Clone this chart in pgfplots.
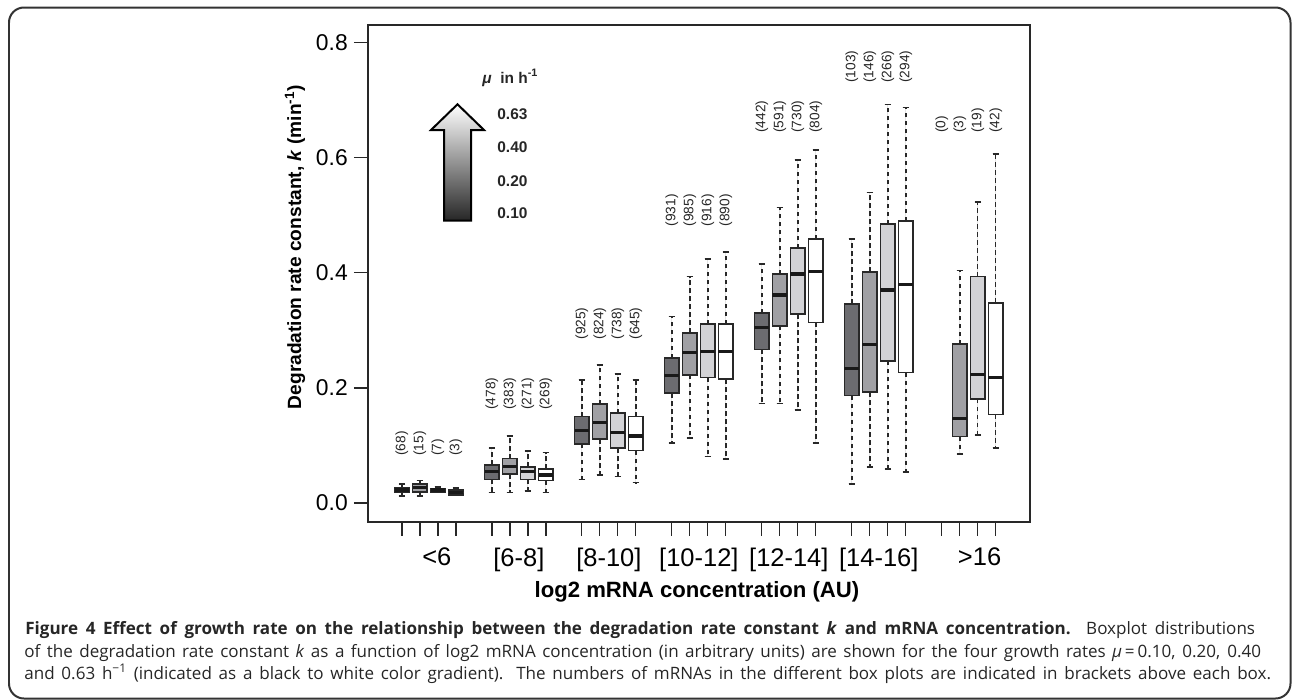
\documentclass[border=0pt]{standalone}
\usepackage{pgfplots}
\pgfplotsset{compat=1.18}
\usepgfplotslibrary{statistics}
\usepackage{fontspec}
\setmainfont{Liberation Sans}
\newfontfamily\capfont{Open Sans}

\definecolor{muA}{RGB}{108,108,112}
\definecolor{muB}{RGB}{160,160,164}
\definecolor{muC}{RGB}{211,211,214}
\definecolor{muD}{RGB}{255,255,255}
\definecolor{edge}{RGB}{40,40,40}

% one box: position, fill, lower whisker, q1, median, q3, upper whisker
\newcommand{\bx}[7]{%
  \addplot[fill=#2, boxplot prepared={draw position=#1,
    lower whisker=#3, lower quartile=#4, median=#5,
    upper quartile=#6, upper whisker=#7}] coordinates {};}

\begin{document}
\begin{tikzpicture}
\begin{scope}[x=0.02cm,y=-0.02cm]
  \path (0,0) rectangle (1292,700);
  \draw[line width=0.04cm, black!80, rounded corners=0.3cm] (9,7.5) rectangle (1290.5,698.5);
  % growth-rate arrow
  \shadedraw[top color=white, bottom color=black!85, draw=black, line width=0.04cm]
    (444,220.7) -- (444,130) -- (431,130) -- (457.5,104.3) -- (484,130)
    -- (471,130) -- (471,220.7) -- cycle;
  \begin{scope}[font=\bfseries\fontsize{8.8}{10}\selectfont, text=black!85]
    \node[anchor=west, inner sep=0pt] at (482,78) {\textit{μ}\ \ in h\textsuperscript{-1}};
    \node[anchor=west, inner sep=0pt] at (497,114) {0.63};
    \node[anchor=west, inner sep=0pt] at (497,147) {0.40};
    \node[anchor=west, inner sep=0pt] at (497,181) {0.20};
    \node[anchor=west, inner sep=0pt] at (497,213) {0.10};
  \end{scope}
  % axis titles
  \node[rotate=90, font=\bfseries\fontsize{10.9}{12}\selectfont] at (295,247)
    {Degradation rate constant, \textit{k} (min\textsuperscript{-1})};
  \node[font=\bfseries\fontsize{12.6}{14}\selectfont] at (697,592)
    {log2 mRNA concentration (AU)};
  % caption
  \begin{scope}[font=\capfont\fontsize{9.7}{11}\selectfont, text=black!85]
    \node[anchor=base west, inner sep=0pt] at (25,634) {\makebox[24.6cm][s]{\textbf{Figure 4 Effect of growth rate on the relationship between the degradation rate constant \textit{k} and mRNA concentration.} Boxplot distributions}};
    \node[anchor=base west, inner sep=0pt] at (24,657) {\makebox[24.74cm][s]{of the degradation rate constant \textit{k} as a function of log2 mRNA concentration (in arbitrary units) are shown for the four growth rates \textit{μ}\,=\,0.10, 0.20, 0.40}};
    \node[anchor=base west, inner sep=0pt] at (24,679) {\makebox[24.94cm][s]{and 0.63 h\textsuperscript{−1} (indicated as a black to white color gradient). The numbers of mRNAs in the different box plots are indicated in brackets above each box.}};
  \end{scope}
\end{scope}

\begin{axis}[
  at={(7.36cm,-10.44cm)}, anchor=south west,
  scale only axis, width=13.24cm, height=9.94cm,
  xmin=-0.889, xmax=35.89, ymin=-0.033, ymax=0.831,
  axis line style={line width=0.8pt, edge},
  tick align=outside, xtick pos=bottom, ytick pos=left,
  major tick length=0.28cm,
  tick style={line width=0.7pt, edge},
  ytick={0,0.2,0.4,0.6,0.8},
  yticklabel style={/pgf/number format/fixed, /pgf/number format/fixed zerofill,
    /pgf/number format/precision=1, /pgf/number format/assume math mode=true,
    font=\fontsize{13}{15}\selectfont},
  xtick={1,2,3,4,6,7,8,9,11,12,13,14,16,17,18,19,21,22,23,24,26,27,28,29,31,32,33,34},
  xticklabels={},
  extra x ticks={2.94,7.5,12.5,17.5,22.5,27.5,33.1},
  extra x tick labels={{<6},{[6-8]},{[8-10]},{[10-12]},{[12-14]},{[14-16]},{>16}},
  extra x tick style={major tick length=0pt,
    tick label style={font=\fontsize{14.5}{16}\selectfont, yshift=-0.4cm}},
  boxplot/draw direction=y,
  boxplot/box extend=0.82,
  boxplot/whisker extend=0.36,
  boxplot/every box/.style={draw=edge, line width=0.95pt},
  boxplot/every median/.style={draw=black!90, line width=1.9pt},
  boxplot/draw/lower whisker/.code={%
    \draw[edge, line width=0.8pt, dash pattern=on 0.09cm off 0.07cm]
      (boxplot box cs:\pgfplotsboxplotvalue{lower quartile},0.5) --
      (boxplot box cs:\pgfplotsboxplotvalue{lower whisker},0.5);
    \draw[edge, line width=0.9pt, solid]
      (boxplot whisker cs:\pgfplotsboxplotvalue{lower whisker},0) --
      (boxplot whisker cs:\pgfplotsboxplotvalue{lower whisker},1);},
  boxplot/draw/upper whisker/.code={%
    \draw[edge, line width=0.8pt, dash pattern=on 0.09cm off 0.07cm]
      (boxplot box cs:\pgfplotsboxplotvalue{upper quartile},0.5) --
      (boxplot box cs:\pgfplotsboxplotvalue{upper whisker},0.5);
    \draw[edge, line width=0.9pt, solid]
      (boxplot whisker cs:\pgfplotsboxplotvalue{upper whisker},0) --
      (boxplot whisker cs:\pgfplotsboxplotvalue{upper whisker},1);},
  every node near coord/.append style={rotate=90, anchor=west, inner sep=0pt,
    font=\fontsize{7.8}{9}\selectfont, text=black!85},
]
% <6
\bx{1}{muA}{0.012}{0.0186}{0.0226}{0.0266}{0.0325}
\bx{2}{muB}{0.012}{0.0186}{0.0266}{0.0325}{0.039}
\bx{3}{muC}{0.0186}{0.0186}{0.0226}{0.025}{0.028}
\bx{4}{muD}{0.014}{0.014}{0.018}{0.0226}{0.0255}
% [6-8]
\bx{6}{muA}{0.018}{0.041}{0.0545}{0.066}{0.095}
\bx{7}{muB}{0.018}{0.050}{0.063}{0.077}{0.1165}
\bx{8}{muC}{0.021}{0.041}{0.0545}{0.063}{0.090}
\bx{9}{muD}{0.018}{0.0388}{0.0487}{0.059}{0.0875}
% [8-10]
\bx{11}{muA}{0.041}{0.1026}{0.1258}{0.150}{0.214}
\bx{12}{muB}{0.0487}{0.111}{0.140}{0.172}{0.240}
\bx{13}{muC}{0.0457}{0.095}{0.123}{0.156}{0.2243}
\bx{14}{muD}{0.0353}{0.091}{0.1165}{0.150}{0.214}
% [10-12]
\bx{16}{muA}{0.104}{0.1907}{0.2214}{0.2516}{0.324}
\bx{17}{muB}{0.1125}{0.2226}{0.2614}{0.296}{0.3936}
\bx{18}{muC}{0.0805}{0.218}{0.263}{0.311}{0.4243}
\bx{19}{muD}{0.076}{0.215}{0.263}{0.311}{0.436}
% [12-14]
\bx{21}{muA}{0.173}{0.267}{0.3055}{0.330}{0.4156}
\bx{22}{muB}{0.173}{0.308}{0.3617}{0.398}{0.514}
\bx{23}{muC}{0.162}{0.328}{0.398}{0.443}{0.5966}
\bx{24}{muD}{0.104}{0.314}{0.402}{0.4586}{0.614}
% [14-16]
\bx{26}{muA}{0.033}{0.1866}{0.2336}{0.346}{0.459}
\bx{27}{muB}{0.062}{0.1925}{0.276}{0.402}{0.540}
\bx{28}{muC}{0.0586}{0.247}{0.3704}{0.4846}{0.693}
\bx{29}{muD}{0.0534}{0.2266}{0.380}{0.490}{0.6875}
% >16 (no mRNA at mu = 0.10)
\bx{32}{muB}{0.0847}{0.1153}{0.147}{0.276}{0.404}
\bx{33}{muC}{0.118}{0.181}{0.2238}{0.3936}{0.523}
\bx{34}{muD}{0.096}{0.154}{0.218}{0.348}{0.607}

% numbers of mRNAs per box
\addplot[draw=none, mark=none, nodes near coords, point meta=explicit symbolic] coordinates {
 (1,0.0817) [{(68)}] (2,0.0817) [{(15)}] (3,0.0817) [{(7)}] (4,0.0817) [{(3)}]
 (6,0.1617) [{(478)}] (7,0.1617) [{(383)}] (8,0.1617) [{(271)}] (9,0.1617) [{(269)}]
 (11,0.2835) [{(925)}] (12,0.2835) [{(824)}] (13,0.2835) [{(738)}] (14,0.2835) [{(645)}]
 (16,0.4805) [{(931)}] (17,0.4805) [{(985)}] (18,0.4805) [{(916)}] (19,0.4805) [{(890)}]
 (21,0.643) [{(442)}] (22,0.643) [{(591)}] (23,0.643) [{(730)}] (24,0.643) [{(804)}]
 (26,0.730) [{(103)}] (27,0.730) [{(146)}] (28,0.730) [{(266)}] (29,0.730) [{(294)}]
 (31,0.643) [{(0)}] (32,0.643) [{(3)}] (33,0.643) [{(19)}] (34,0.643) [{(42)}]
};
\end{axis}
\end{tikzpicture}
\end{document}
